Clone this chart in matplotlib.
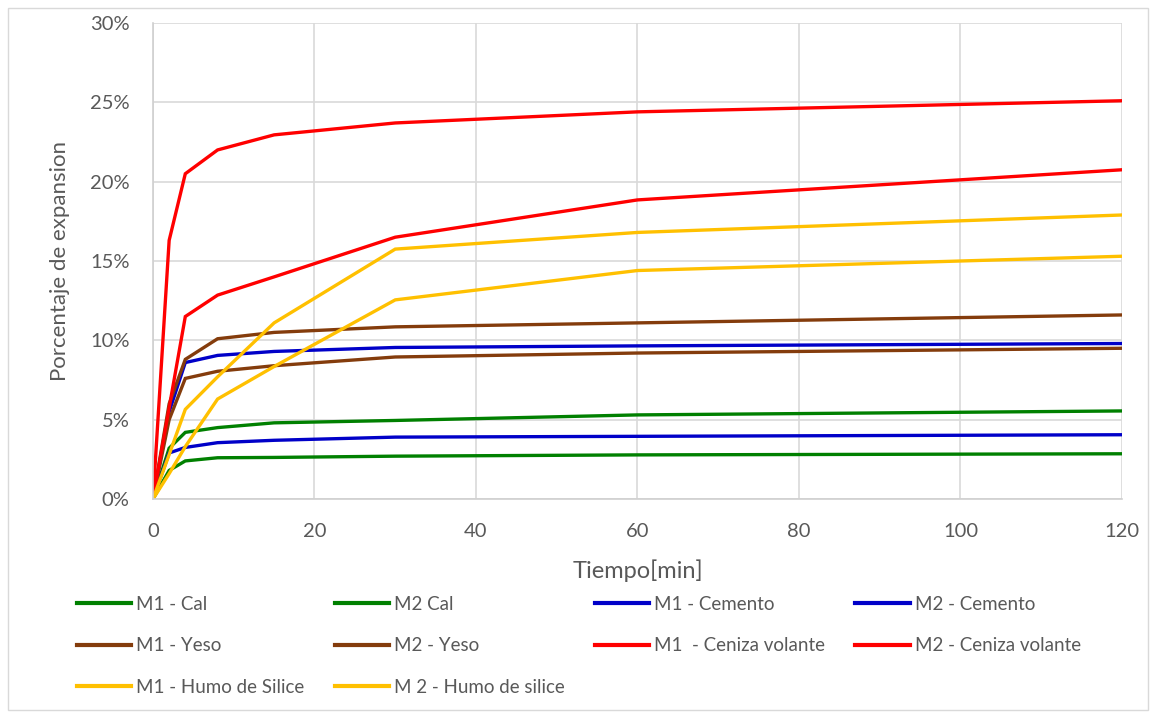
import matplotlib.pyplot as plt
from matplotlib.patches import Rectangle
from matplotlib.ticker import PercentFormatter

plt.rcParams['font.family'] = ['Lato', 'DejaVu Sans']

tiempo = [0, 2, 4, 8, 15, 30, 60, 120]

m1_cal = [0.0, 3.2, 4.2, 4.5, 4.8, 4.95, 5.3, 5.55]
m2_cal = [0.0, 1.8, 2.4, 2.6, 2.62, 2.7, 2.78, 2.85]
m1_cemento = [0.0, 5.5, 8.6, 9.05, 9.3, 9.55, 9.65, 9.8]
m2_cemento = [0.0, 2.9, 3.25, 3.55, 3.7, 3.9, 3.95, 4.05]
m1_yeso = [0.0, 6.0, 8.8, 10.1, 10.5, 10.85, 11.1, 11.6]
m2_yeso = [0.0, 5.0, 7.6, 8.05, 8.4, 8.95, 9.2, 9.5]
m1_ceniza = [0.0, 16.3, 20.5, 22.0, 22.95, 23.7, 24.4, 25.1]
m2_ceniza = [0.0, 5.75, 11.5, 12.85, 14.0, 16.5, 18.85, 20.75]
m1_humo = [0.0, 2.8, 5.65, 7.7, 11.1, 15.75, 16.8, 17.9]
m2_humo = [0.0, 1.6, 3.3, 6.3, 8.35, 12.55, 14.4, 15.3]

series = [
    ('M1 - Cal', m1_cal, '#008000'),
    ('M2 Cal', m2_cal, '#008000'),
    ('M1 - Cemento', m1_cemento, '#0000C8'),
    ('M2 - Cemento', m2_cemento, '#0000C8'),
    ('M1 - Yeso', m1_yeso, '#843C0C'),
    ('M2 - Yeso', m2_yeso, '#843C0C'),
    ('M1  - Ceniza volante', m1_ceniza, '#FF0000'),
    ('M2 - Ceniza volante', m2_ceniza, '#FF0000'),
    ('M1 - Humo de Silice', m1_humo, '#FFC000'),
    ('M 2 - Humo de silice', m2_humo, '#FFC000'),
]

fig = plt.figure(figsize=(11.55, 7.17), dpi=100)
ax = fig.add_axes([153/1155, 1-499/717, (1122-153)/1155, (499-23)/717])

lines = {}
for name, vals, c in series:
    l, = ax.plot(tiempo, vals, color=c, lw=2.4, solid_joinstyle='miter')
    lines[name] = l

ax.set_xlim(0, 120)
ax.set_ylim(0, 30)
ax.set_xticks(range(0, 121, 20))
ax.set_yticks(range(0, 31, 5))
ax.yaxis.set_major_formatter(PercentFormatter(decimals=0))
ax.grid(True, color='#d9d9d9', lw=1.2)
ax.set_axisbelow(True)
for s in ['top', 'right']:
    ax.spines[s].set_visible(False)
for s in ['left', 'bottom']:
    ax.spines[s].set_color('#d0d0d0')
    ax.spines[s].set_linewidth(1.2)
ax.tick_params(length=0, labelsize=14.5, labelcolor='#595959', pad=17)
ax.set_xlabel('Tiempo[min]', fontsize=17, color='#595959', labelpad=14)
ax.set_ylabel('Porcentaje de expansion', fontsize=16, color='#595959', labelpad=14)

# legend filled column by column
order = ['M1 - Cal', 'M1 - Yeso', 'M1 - Humo de Silice',
         'M2 Cal', 'M2 - Yeso', 'M 2 - Humo de silice',
         'M1 - Cemento', 'M1  - Ceniza volante',
         'M2 - Cemento', 'M2 - Ceniza volante']
leg = fig.legend([lines[n] for n in order], order, ncol=4, loc='upper left',
                 bbox_to_anchor=(77/1155, 1-596/717), frameon=False, fontsize=13.5,
                 labelcolor='#595959', handlelength=2.9, handletextpad=0.27,
                 columnspacing=1.6, labelspacing=1.3, borderpad=0, borderaxespad=0)
for h in leg.legend_handles:
    h.set_linewidth(3)

fig.patches.append(Rectangle((8/1155, 7/717), 1140/1155, 702/717, transform=fig.transFigure,
                             fill=False, edgecolor='#d9d9d9', lw=1))

fig.savefig('out.png', dpi=100)
